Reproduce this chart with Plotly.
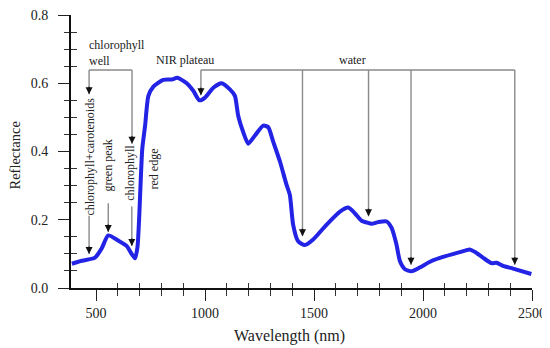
import numpy as np
import plotly.graph_objects as go

# ---------------- data ----------------
wavelength = [389, 430, 495, 525, 556, 602, 641, 664, 679, 690, 697, 712, 725, 740, 763,
              808, 847, 873, 916, 946, 974, 1000, 1038, 1076, 1114, 1137, 1152, 1175,
              1198, 1229, 1267, 1290, 1313, 1344, 1374, 1389, 1404, 1427, 1458, 1496,
              1558, 1619, 1657, 1687, 1718, 1741, 1764, 1794, 1833, 1856, 1878, 1894,
              1917, 1947, 1985, 2039, 2092, 2169, 2214, 2237, 2275, 2314, 2337, 2367,
              2413, 2497]
reflectance = [0.071, 0.079, 0.089, 0.115, 0.154, 0.139, 0.123, 0.099, 0.087, 0.120, 0.195,
               0.408, 0.476, 0.563, 0.590, 0.610, 0.611, 0.616, 0.600, 0.578, 0.550, 0.558,
               0.587, 0.600, 0.582, 0.563, 0.505, 0.457, 0.423, 0.447, 0.476, 0.471, 0.428,
               0.370, 0.302, 0.273, 0.186, 0.137, 0.126, 0.142, 0.186, 0.224, 0.236, 0.219,
               0.197, 0.192, 0.188, 0.193, 0.195, 0.176, 0.128, 0.079, 0.055, 0.049, 0.060,
               0.079, 0.091, 0.105, 0.113, 0.106, 0.089, 0.073, 0.074, 0.065, 0.057, 0.041]

# annotation arrows (data coordinates)
bar_y = 0.639
well_x = [468, 665]
well_tip_y = [0.568, 0.423]
top_x = [981, 1447, 1750, 1945, 2421]
top_tip_y = [0.565, 0.152, 0.210, 0.068, 0.068]
low_x = [468, 556, 664]
low_tail_y = [0.212, 0.248, 0.239]
low_tip_y = [0.100, 0.164, 0.123]

# rotated labels
rot_labels = ["chlorophyll+carotenoids", "green peak", "chlorophyll", "red edge"]
rot_x = [472, 553, 656, 767]
rot_y = [0.385, 0.358, 0.338, 0.348]

# horizontal labels
hz_labels = ["chlorophyll<br>well", "NIR plateau", "water"]
hz_x = [459, 910, 1678]
hz_y = [0.690, 0.669, 0.669]
hz_anchor = ["left", "center", "center"]

x_major = [500, 1000, 1500, 2000, 2500]
y_major = [0.0, 0.2, 0.4, 0.6, 0.8]

XR = [385, 2500]
YR = [0, 0.8]
FONT = "Liberation Serif"
GRAY = "#8a8a8a"

fig = go.Figure()

# gray connector lines
lx, ly = [], []
for group_x in (well_x, top_x):
    lx += [group_x[0], group_x[-1], None]
    ly += [bar_y, bar_y, None]
for xv, tip in zip(well_x + top_x, well_tip_y + top_tip_y):
    lx += [xv, xv, None]
    ly += [bar_y, tip, None]
for xv, tail, tip in zip(low_x, low_tail_y, low_tip_y):
    lx += [xv, xv, None]
    ly += [tail, tip, None]
fig.add_trace(go.Scatter(x=lx, y=ly, mode="lines", line=dict(color=GRAY, width=1.4),
                         hoverinfo="skip", showlegend=False))

# curve
fig.add_trace(go.Scatter(x=wavelength, y=reflectance, mode="lines",
                         line=dict(color="#2323e6", width=4, shape="spline", smoothing=0.6),
                         showlegend=False))

# dummy trace for the overlay axes (crossing minor ticks)
fig.add_trace(go.Scatter(x=[XR[0]], y=[YR[0]], xaxis="x2", yaxis="y2", mode="markers",
                         marker=dict(opacity=0), hoverinfo="skip", showlegend=False))

annotations = []
# arrowheads
for xv, tip in zip(well_x + top_x + low_x, well_tip_y + top_tip_y + low_tip_y):
    annotations.append(dict(x=xv, y=tip, xref="x", yref="y", ax=0, ay=-9, text="",
                            showarrow=True, arrowhead=2, arrowsize=1, arrowwidth=1.4,
                            arrowcolor="#111111"))
for t, xv, yv in zip(rot_labels, rot_x, rot_y):
    annotations.append(dict(x=xv, y=yv, xref="x", yref="y", text=t, textangle=-90,
                            showarrow=False, font=dict(family=FONT, size=12, color="#222")))
for t, xv, yv, an in zip(hz_labels, hz_x, hz_y, hz_anchor):
    annotations.append(dict(x=xv, y=yv, xref="x", yref="y", text=t, xanchor=an,
                            align="left", showarrow=False,
                            font=dict(family=FONT, size=12, color="#222")))
# axis titles
annotations.append(dict(x=0.474, y=-0.175, xref="paper", yref="paper", text="Wavelength (nm)",
                        showarrow=False, yanchor="middle",
                        font=dict(family=FONT, size=16, color="#222")))
annotations.append(dict(x=-0.121, y=0.486, xref="paper", yref="paper", text="Reflectance",
                        textangle=-90, showarrow=False, xanchor="center",
                        font=dict(family=FONT, size=14.5, color="#222")))

x_minor = [v for v in range(500, 2501, 100) if v not in x_major]
y_minor = [round(v, 2) for v in np.arange(0.05, 0.8, 0.05) if round(v, 2) not in y_major]

tickfont = dict(family=FONT, size=14, color="#222")
fig.update_layout(
    width=542, height=340,
    margin=dict(l=63, r=18, t=7, b=60, autoexpand=False),
    paper_bgcolor="white", plot_bgcolor="white",
    annotations=annotations,
    xaxis=dict(range=XR, tickvals=x_major, ticks="outside", ticklen=11, tickwidth=1.2,
               tickcolor="#222", showline=True, linecolor="#111", linewidth=2,
               showgrid=False, zeroline=False, tickfont=tickfont, automargin=False,
               ticklabeloverflow="allow",
               minor=dict(tickvals=x_minor, ticks="outside", ticklen=5.5, tickwidth=1.2,
                          tickcolor="#333", showgrid=False)),
    yaxis=dict(range=YR, tickvals=y_major, ticktext=["0.0", "0.2", "0.4", "0.6", "0.8"],
               ticks="outside", ticklen=11, tickwidth=1.2, tickcolor="#222",
               showline=True, linecolor="#111", linewidth=2, showgrid=False,
               zeroline=False, tickfont=tickfont, ticklabelstandoff=7, automargin=False,
               ticklabeloverflow="allow",
               minor=dict(tickvals=y_minor, ticks="outside", ticklen=5.5, tickwidth=1.2,
                          tickcolor="#333", showgrid=False)),
    xaxis2=dict(range=XR, overlaying="x", anchor="y2", side="bottom", tickvals=x_minor,
                ticks="inside", ticklen=5.5, tickwidth=1.2, tickcolor="#333",
                showticklabels=False, showgrid=False, zeroline=False, showline=False,
                automargin=False),
    yaxis2=dict(range=YR, overlaying="y", anchor="x2", side="left", tickvals=y_minor,
                ticks="inside", ticklen=5.5, tickwidth=1.2, tickcolor="#333",
                showticklabels=False, showgrid=False, zeroline=False, showline=False,
                automargin=False),
)

fig.write_html("out.html")
